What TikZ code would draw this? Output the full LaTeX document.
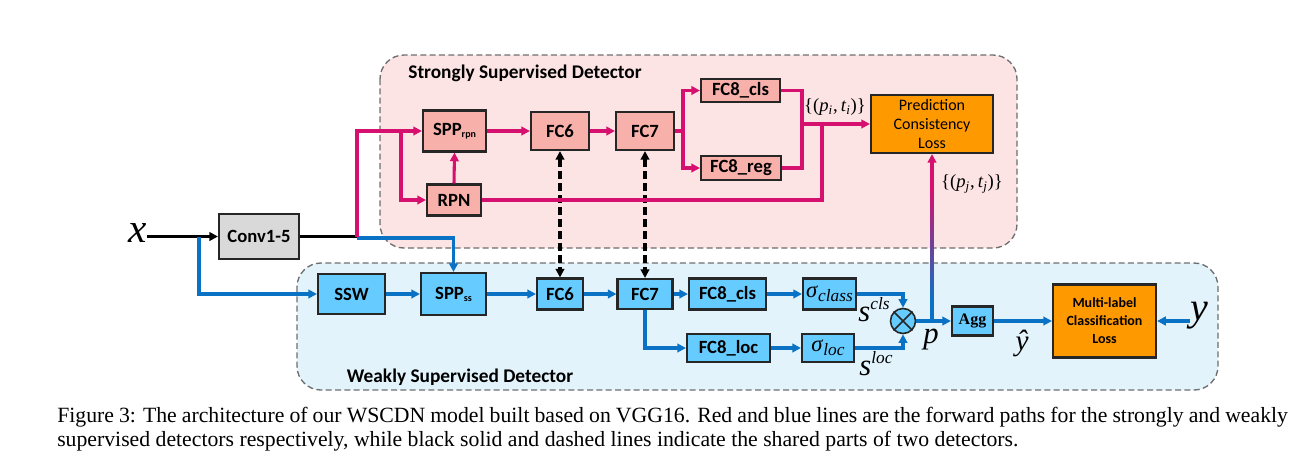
\documentclass[tikz,border=0pt]{standalone}
\usepackage{fontspec}
\setmainfont{Liberation Serif}
\setsansfont{Carlito}
\usetikzlibrary{arrows.meta,calc}
\definecolor{pkline}{HTML}{D6106E}
\definecolor{pkfill}{HTML}{F8B0AA}
\definecolor{pkreg}{HTML}{FDE4E4}
\definecolor{blline}{HTML}{0A72C4}
\definecolor{blfill}{HTML}{66CCFF}
\definecolor{blreg}{HTML}{E2F3FC}
\definecolor{orfill}{HTML}{FF9900}
\definecolor{gyfill}{HTML}{D9D9D9}
\definecolor{regedge}{HTML}{6E6E6E}
\begin{document}
\begin{tikzpicture}[x=0.75pt,y=-0.75pt,
  sz/.style 2 args={minimum width=#1*0.75pt, minimum height=#2*0.75pt},
  blk/.style={draw=black!85, line width=1.6pt, inner sep=0pt,
    font=\sffamily\bfseries\fontsize{14}{16}\selectfont},
  pkbox/.style={blk, fill=pkfill},
  blbox/.style={blk, fill=blfill},
  region/.style={draw=regedge, line width=1pt, rounded corners=18pt,
    dash pattern=on 4.5pt off 2.5pt},
  arrtip/.style={-{Triangle[length=6.5pt,width=6.5pt]}},
  pkln/.style={draw=pkline, line width=2.3pt},
  pkarr/.style={pkln, arrtip},
  blln/.style={draw=blline, line width=2.3pt},
  blarr/.style={blln, arrtip},
  dasharr/.style={draw=black, line width=2.4pt, dash pattern=on 6pt off 3pt,
    {Triangle[length=6.5pt,width=6.5pt]}-{Triangle[length=6.5pt,width=6.5pt]}},
  title/.style={inner sep=0pt, font=\sffamily\bfseries\fontsize{14.5}{16}\selectfont},
  mlab/.style={inner sep=0pt, font=\itshape}
]
\useasboundingbox (0,0) rectangle (1316,469);

% regions
\draw[region, fill=pkreg] (380,55) rectangle (1017,248);
\draw[region, fill=blreg] (297,263) rectangle (1218,390);
\node[title] (tstrong) at (525,73) {Strongly Supervised Detector};
\node[title] (tweak) at (460,377) {Weakly Supervised Detector};

% input
\node[mlab, font=\itshape\fontsize{31}{31}\selectfont] (xlab) at (137.5,233) {x};
\node[blk, fill=gyfill, sz={80}{45}] (conv) at (259,236.5) {Conv1-5};

% strongly supervised
\node[pkbox, sz={63}{41}] (spprpn) at (454.5,131) {SPP\raisebox{-1.5pt}{\fontsize{7.5}{8}\selectfont rpn}};
\node[pkbox, sz={58}{38}] (fc6t) at (560,131) {FC6};
\node[pkbox, sz={58}{38}] (fc7t) at (645,131) {FC7};
\node[pkbox, sz={79}{23}] (fc8clst) at (740.5,90.5) {FC8\_cls};
\node[pkbox, sz={80}{24}] (fc8reg) at (741,168) {FC8\_reg};
\node[pkbox, sz={54}{31}] (rpn) at (454,200) {RPN};
\node[blk, fill=orfill, sz={122}{58}, align=center,
  font=\sffamily\fontsize{12}{14.3}\selectfont] (pcl) at (932,124)
  {Prediction\\Consistency\\Loss};
\node[inner sep=0pt, font=\fontsize{14}{14}\selectfont] (pit) at (835,107)
  {\{(\textit{p}\textsubscript{\textit{i}},\,\textit{t}\textsubscript{\textit{i}})\}};
\node[inner sep=0pt, font=\fontsize{14}{14}\selectfont] (pjt) at (972,184)
  {\{(\textit{p}\textsubscript{\textit{j}},\,\textit{t}\textsubscript{\textit{j}})\}};

% weakly supervised
\node[blbox, sz={67}{40}] (ssw) at (351.5,294) {SSW};
\node[blbox, sz={65}{42}] (sppss) at (453.5,294) {SPP\raisebox{-1.5pt}{\fontsize{7.5}{8}\selectfont ss}};
\node[blbox, sz={46}{31}] (fc6b) at (560,294) {FC6};
\node[blbox, sz={55}{30}] (fc7b) at (645,294) {FC7};
\node[blbox, sz={77}{31}] (fc8clsb) at (727.5,294) {FC8\_cls};
\node[blbox, sz={53}{31}, font=\fontsize{17}{17}\selectfont] (sigc) at (829.5,294)
  {\textit{σ}\raisebox{-3pt}{\fontsize{13}{13}\selectfont\textit{class}}};
\node[blbox, sz={83}{28}] (fc8loc) at (728.5,348) {FC8\_loc};
\node[blbox, sz={52}{28}, font=\fontsize{17}{17}\selectfont] (sigl) at (828,348)
  {\textit{σ}\raisebox{-3pt}{\fontsize{13}{13}\selectfont\textit{loc}}};
\node[circle, draw=black!85, fill=blfill, line width=1.2pt, minimum size=25*0.75pt,
  inner sep=0pt] (mul) at (903,321) {};
\draw[line width=1.2pt, black!85] (mul.north east) -- (mul.south west)
  (mul.north west) -- (mul.south east);
\node[blk, fill=blfill, sz={41}{29}, font=\bfseries\fontsize{12}{12}\selectfont] (agg) at (972.5,321) {Agg};
\node[blk, fill=orfill, sz={103}{73}, align=center,
  font=\sffamily\bfseries\fontsize{10.5}{13.5}\selectfont] (mlcl) at (1104.5,321)
  {Multi-label\\Classification\\Loss};
\node[mlab, font=\itshape\fontsize{30}{30}\selectfont] (ylab) at (1199,316) {y};
\node[mlab, font=\itshape\fontsize{23}{23}\selectfont] (plab) at (931,340) {p};
\node[mlab, font=\itshape\fontsize{22}{22}\selectfont] (yhat) at (1022,343) {ŷ};
\node[mlab, font=\itshape\fontsize{23}{23}\selectfont] (scls) at (874,310)
  {s\raisebox{9pt}{\fontsize{13}{13}\selectfont cls}};
\node[mlab, font=\itshape\fontsize{23}{23}\selectfont] (sloc) at (876,364)
  {s\raisebox{9pt}{\fontsize{13}{13}\selectfont loc}};

% junctions
\coordinate (J0) at (199,236.5);
\coordinate (J1) at (357,236.5);
\coordinate (J1b) at (357,238);
\coordinate (J2) at (401,131);
\coordinate (J3) at (683,131);
\coordinate (J4) at (802,124);
\coordinate (J5) at (822,124);
\coordinate (J6) at (932,321);
\coordinate (G1) at (932,300);

% black shared paths
\draw[black, line width=2.3pt, arrtip] (xlab.east |- conv.west) -- (conv.west);
\draw[dasharr] (fc6t.south) -- (fc6b.north);
\draw[dasharr] (fc7t.south) -- (fc7b.north);

% blue paths
\draw[blarr] (J1b) -| (sppss.north);
\draw[blarr] (J0) |- (ssw.west);
\draw[blarr] (ssw) -- (sppss);
\draw[blarr] (sppss) -- (fc6b);
\draw[blarr] (fc6b) -- (fc7b);
\draw[blarr] (fc7b) -- (fc8clsb);
\draw[blarr] (fc8clsb) -- (sigc);
\draw[blarr] (fc7b.south) |- (fc8loc.west);
\draw[blarr] (fc8loc) -- (sigl);
\draw[blarr] (sigc.east) -| (mul.north);
\draw[blarr] (sigl.east) -| (mul.south);
\draw[blarr] (mul.east) -- (agg.west);
\draw[blarr] (agg) -- (mlcl);
\draw[blarr] (ylab.west |- mlcl.east) -- (mlcl.east);

% black trunk and pink paths
\draw[black, line width=2.3pt] (conv.east) -- (J1);
\draw[pkarr] (J1) |- (spprpn.west);
\draw[pkarr] (J2) |- (rpn.west);
\draw[pkarr] (rpn.north) -- (spprpn.south);
\draw[pkarr] (spprpn) -- (fc6t);
\draw[pkarr] (fc6t) -- (fc7t);
\draw[pkln] (fc7t.east) -- (J3);
\draw[pkarr] (J3) |- (fc8clst.west);
\draw[pkarr] (J3) |- (fc8reg.west);
\draw[pkln] (fc8clst.east) -| (J4);
\draw[pkln] (fc8reg.east) -| (J4);
\draw[pkln] (rpn.east) -| (J5);
\draw[pkarr] (J4) -- (pcl.west);

% p to prediction consistency loss (blue to pink)
\draw[pkarr] (J6) -- (pcl.south);
\draw[blln] (J6) -- (G1);
\shade[bottom color=blline, top color=pkline] (930.47,300) rectangle (933.53,190);

% caption
\node[anchor=base west, inner sep=0pt, font=\fontsize{16.3}{18}\selectfont] (cap1) at (57,422)
  {\makebox[923pt][s]{Figure 3: The architecture of our WSCDN model built based on VGG16. Red and blue lines are the forward paths for the strongly and weakly}};
\node[anchor=base west, inner sep=0pt, font=\fontsize{16.3}{18}\selectfont] (cap2) at (57,446)
  {supervised detectors respectively, while black solid and dashed lines indicate the shared parts of two detectors.};
\end{tikzpicture}
\end{document}
